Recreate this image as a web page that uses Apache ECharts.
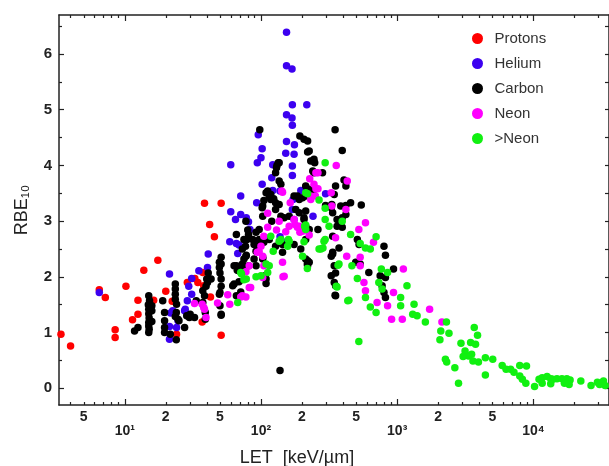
<!DOCTYPE html>
<html>
<head>
<meta charset="utf-8">
<script src="https://cdn.jsdelivr.net/npm/echarts@6/dist/echarts.min.js"></script>
<style>
  html, body { margin: 0; padding: 0; background: #fff; }
  #chart { width: 609px; height: 466px; }
</style>
</head>
<body>
<div id="chart"></div>
<script>
  // [LET keV/um, RBE10]
  const protons = [
    [3.4, 0.97], [4.0, 0.76], [6.5, 1.77], [7.2, 1.63], [8.5, 1.05], [8.5, 0.91],
    [10.2, 1.83], [11.4, 1.23], [12.5, 1.58], [12.5, 1.33], [13.8, 2.12], [17.5, 2.3],
    [16.3, 1.58], [20, 1.74], [22.3, 1.56], [24, 0.97], [28.8, 1.9], [32.7, 1.97],
    [34.4, 1.9], [37.4, 2.08], [37, 1.19], [42.6, 1.64], [51, 0.95], [38.5, 3.32],
    [51, 3.32], [42, 2.94], [45.5, 2.72], [38, 1.84]
  ]
  const helium = [
    [6.5, 1.72], [21.3, 2.05], [21.3, 1.11], [21.7, 1.35], [22.5, 1.39], [24.6, 1.21],
    [24, 1.09], [21.3, 0.88], [27.5, 1.39], [27.8, 1.42], [28.8, 1.57], [29.5, 1.83],
    [31, 1.97], [31, 1.69], [35, 2.11], [40.5, 2.17], [41, 2.41],
    [59, 2.63], [66, 2.6], [69, 2.57], [67.5, 2.42], [60, 3.17], [65, 3.03], [71, 3.12],
    [78, 3.06], [81, 2.99], [83, 2.85], [71, 3.45], [93, 3.33], [60, 4.01], [94, 4.05],
    [100, 4.14], [95.5, 4.55], [102, 4.3], [102, 3.66], [120, 3.78], [122, 4.01], [122, 3.55],
    [154, 6.39], [154, 5.79], [169, 5.73], [170, 5.09], [217, 5.09], [154, 4.91], [169, 4.85],
    [170, 4.72], [154, 4.43], [176, 4.37], [152, 4.22], [175, 4.2], [170, 3.99], [170, 3.82],
    [170, 3.21], [175, 3.03], [138, 3.54], [196, 3.55], [298, 3.49], [241, 3.09], [150, 2.62],
    [138, 2.72], [172, 3.39]
  ]
  const carbon = [
    [11.8, 1.03], [12.5, 1.09], [15, 1.66], [15.2, 1.57], [14.9, 1.5], [15, 1.42], [15, 1.34],
    [15.1, 1.26], [15, 1.18], [15, 1.12], [15.1, 1.06], [15, 1.0], [15.8, 1.39], [15.8, 1.48],
    [15.8, 1.2], [19, 1.57], [19.6, 1.36], [19.6, 1.21], [19.6, 1.09], [19.6, 1.0], [21.6, 0.97],
    [23.5, 1.87], [23.5, 1.78], [23.5, 1.69], [23.5, 1.6], [24, 1.51], [23.9, 1.36], [23.5, 1.29],
    [24.6, 1.24], [25, 1.21], [23.9, 0.87], [27.5, 1.09], [28.5, 1.3], [29.8, 1.27], [30.2, 1.33],
    [32.5, 1.27], [33.5, 1.57], [37.4, 1.75], [39.5, 1.83], [40, 1.96], [41, 2.07], [43, 1.96],
    [39, 1.36], [39, 1.24], [38.5, 1.66], [37.4, 1.54], [40.5, 1.9],
    [49.5, 2.26], [49.5, 2.17], [50, 2.07], [51, 2.35], [51, 1.96], [51, 1.83], [49.5, 1.69],
    [50, 1.48], [51, 1.33], [51, 2.23], [50, 1.72], [51, 1.31],
    [63.5, 2.2], [67, 2.12], [63.5, 1.87], [69, 1.91], [71, 1.73], [62, 1.84], [66, 1.66],
    [66, 2.2], [69, 2.11], [73, 2.23], [73, 2.5], [78, 2.39], [66, 2.76], [75, 2.67],
    [80, 2.84], [81, 2.76], [79, 2.67], [77, 2.55], [77.5, 2.37], [75, 2.32], [73, 2.2],
    [81, 2.2], [87, 2.67], [89, 2.58], [92, 2.46], [77.5, 3.0], [92, 2.57], [89, 2.32],
    [92, 2.2], [97, 2.67], [105, 2.62], [103, 2.35],
    [98, 4.64], [193, 4.53], [207, 4.47], [220, 4.44], [220, 4.24], [350, 4.64], [395, 4.27],
    [134, 4.05], [130, 3.96], [128, 3.87], [136, 3.72], [140, 3.66], [136, 4.05], [131, 4.0],
    [232, 4.08], [248, 4.05], [245, 3.87], [283, 3.87], [353, 3.63], [407, 3.74], [213, 3.63],
    [232, 3.57], [213, 3.45], [202, 3.42], [175, 3.45], [185, 3.45],
    [109, 3.51], [115, 3.45], [118, 3.39], [128, 3.33], [136, 3.3], [103, 3.27], [103, 3.09],
    [120, 3.0], [140, 3.09], [161, 3.09], [180, 3.21], [191, 3.15], [207, 3.06], [213, 2.91],
    [226, 2.85], [298, 3.28], [328, 3.24], [336, 3.15], [362, 3.03], [395, 2.89], [420, 3.28],
    [112, 3.54], [118, 3.48], [124, 3.4], [105, 3.37], [102, 3.24], [128, 3.21], [148, 3.06],
    [92, 2.8], [97, 2.85], [115, 2.67], [128, 2.55], [144, 2.58], [175, 2.58], [196, 2.5],
    [213, 2.67], [103, 2.32], [109, 1.88], [107, 2.02], [109, 1.96], [144, 2.44], [213, 2.32],
    [220, 2.2], [226, 2.26], [336, 2.44], [345, 2.2], [353, 2.07], [328, 2.02], [353, 1.84],
    [350, 1.67], [138, 0.32],
    [226, 4.26], [245, 4.11], [240, 3.9], [420, 3.63], [191, 3.39], [219, 3.58], [240, 3.51],
    [213, 3.18], [207, 3.03], [345, 3.48], [331, 3.3], [385, 3.27], [455, 3.33], [545, 3.29],
    [420, 3.12], [395, 3.06], [262, 2.85], [362, 2.91], [336, 2.73], [510, 2.67], [525, 2.58],
    [374, 2.52], [336, 2.41], [328, 2.37], [800, 2.55], [820, 2.39], [619, 2.08], [220, 2.29],
    [219, 2.23], [345, 1.9], [353, 1.66], [496, 2.26], [535, 2.23], [750, 2.02], [775, 1.84],
    [800, 1.72], [820, 1.63], [940, 2.14], [820, 1.99]
  ]
  const neon = [
    [32.5, 1.52], [37, 1.51], [38, 1.45], [39.5, 1.27], [48, 1.53], [57, 1.68], [59, 1.51],
    [71, 1.64], [77.5, 1.64], [82, 1.81], [82, 2.2], [97, 2.45], [103, 2.37], [112, 2.89],
    [136, 3.0], [152, 2.81], [144, 2.26], [145, 2.0], [142, 3.54], [175, 3.03], [178, 2.94],
    [185, 2.89], [193, 2.8], [253, 3.87], [245, 3.66], [253, 3.58], [232, 3.45], [328, 3.51],
    [430, 3.72], [353, 2.7], [426, 2.37], [103, 1.99],
    [112, 3.14], [144, 3.52], [164, 3.33], [130, 2.84], [161, 2.91], [191, 2.91], [105, 2.73],
    [100, 2.55], [94, 2.44], [77.5, 2.09], [105, 2.2], [148, 2.01], [84, 1.81], [73, 1.66],
    [38.5, 1.42], [202, 2.82],
    [357, 4.0], [262, 3.87], [228, 3.76], [262, 3.58], [251, 3.45], [232, 3.39], [331, 3.27],
    [420, 3.21], [198, 2.85], [226, 2.75], [585, 2.97], [523, 2.85], [670, 2.62], [535, 2.35],
    [535, 2.2], [570, 1.9], [585, 1.75], [712, 1.54], [850, 1.48], [940, 1.72], [1110, 2.14],
    [910, 1.24], [1090, 1.24], [1730, 1.42], [2130, 1.19]
  ]
  const heavy = [
    [213, 3.51], [118, 2.73], [140, 2.67], [161, 2.64], [123, 2.46], [157, 2.55], [213, 2.85],
    [202, 2.37], [115, 2.2], [112, 2.08], [92, 2.0], [71, 2.08], [67.5, 1.54],
    [296, 4.05], [220, 3.49], [267, 3.38], [296, 3.23], [296, 3.03], [316, 2.91], [290, 2.64],
    [267, 2.5], [395, 3.0], [213, 2.93], [207, 2.63], [219, 2.15], [159, 2.67], [136, 2.64],
    [109, 2.23], [100, 2.02], [78, 1.96], [72, 2.05], [362, 1.82], [374, 2.23], [434, 1.57],
    [75, 1.95], [209, 2.91], [296, 2.67], [275, 2.5], [455, 2.76], [535, 2.6], [585, 2.52],
    [635, 2.5], [700, 2.72], [368, 2.21], [465, 2.2], [510, 1.97], [357, 1.83], [442, 1.58],
    [585, 1.63], [635, 1.46], [700, 1.36], [733, 1.9], [765, 2.14], [850, 2.08], [775, 1.78],
    [1060, 1.63], [1060, 1.48], [1180, 1.84], [523, 0.84], [285, 2.52],
    [1330, 1.51], [1300, 1.33], [1400, 1.3], [1610, 1.19], [2300, 1.19], [2090, 1.03],
    [2400, 0.99], [2060, 0.87], [3680, 1.09], [3890, 0.95], [2940, 0.81], [3460, 0.82],
    [3760, 0.79], [3150, 0.67], [3340, 0.58], [3520, 0.61], [3600, 0.49], [3950, 0.47],
    [3050, 0.57], [2260, 0.52], [2310, 0.47], [2650, 0.37], [2820, 0.09], [4440, 0.55],
    [5030, 0.52], [4440, 0.24], [5900, 0.41], [6300, 0.34], [6800, 0.34], [7200, 0.29],
    [7940, 0.41], [8900, 0.4], [8800, 0.09], [8300, 0.16], [7940, 0.22], [10200, 0.03],
    [11000, 0.16], [11600, 0.19], [12600, 0.21], [13400, 0.17], [13900, 0.16], [14900, 0.17],
    [16200, 0.17], [17600, 0.17], [18600, 0.15], [18300, 0.07], [13400, 0.08], [22300, 0.13],
    [26500, 0.05], [29500, 0.11], [30600, 0.07], [32700, 0.13], [33600, 0.05], [11600, 0.09],
    [16900, 0.09]
  ]

  const seriesNames = ['Protons', 'Helium', 'Carbon', 'Neon', '>Neon']
  const seriesColors = ['#ff0000', '#3c00f0', '#000000', '#ff00ff', '#11f011']

  // axis ticks (LET is drawn on a log10 value axis)
  const xRange = [3.29, 35900]
  const xMinorTicks = [4, 5, 6, 7, 8, 9, 20, 30, 40, 50, 60, 70, 80, 90,
    200, 300, 400, 500, 600, 700, 800, 900, 2000, 3000, 4000, 5000, 6000, 7000, 8000, 9000,
    20000, 30000]
  const xSmallLabels = [5, 20, 50, 200, 500, 2000, 5000]
  const xDecades = [10, 100, 1000, 10000]
  const yRange = [-0.3, 6.7]
  const yLabels = [0, 1, 2, 3, 4, 5, 6]
  const yHalfTicks = [0.5, 1.5, 2.5, 3.5, 4.5, 5.5, 6.5]

  const lg = v => Math.log10(v)
  const sup = { 1: '¹', 2: '²', 3: '³', 4: '⁴' }
  const ink = '#222'
  const font = "'Liberation Sans', Arial, sans-serif"

  const chart = echarts.init(document.getElementById('chart'))

  const xBase = {
    type: 'value',
    min: lg(xRange[0]),
    max: lg(xRange[1]),
    splitLine: { show: false },
    axisLine: { show: false, onZero: false },
    axisTick: { show: false },
    axisLabel: { show: false }
  }
  const yBase = {
    type: 'value',
    min: yRange[0],
    max: yRange[1],
    splitLine: { show: false },
    axisLine: { show: false, onZero: false },
    axisTick: { show: false },
    axisLabel: { show: false }
  }
  const frame = { show: true, onZero: false, lineStyle: { color: ink, width: 1.5 } }
  const tick = (values, len) => ({
    show: true, inside: true, length: len, customValues: values,
    lineStyle: { color: ink, width: 1.2 }
  })

  const option = {
    backgroundColor: '#fff',
    animation: false,
    grid: { left: 59, top: 15, width: 552, height: 390 },
    legend: {
      orient: 'vertical',
      left: 467,
      top: 26,
      itemWidth: 20,
      itemHeight: 11,
      itemGap: 10,
      icon: 'circle',
      data: seriesNames,
      textStyle: { fontSize: 15, color: '#333', fontFamily: font, padding: [0, 0, 0, 2] }
    },
    xAxis: [
      Object.assign({}, xBase, {
        position: 'bottom',
        axisLine: frame,
        axisTick: tick(xMinorTicks.map(lg), 3),
        axisLabel: {
          show: true, customValues: xSmallLabels.map(lg), margin: 5,
          formatter: v => String(Math.round(Math.pow(10, v))).charAt(0),
          fontSize: 14, fontWeight: 'bold', color: ink, fontFamily: font
        }
      }),
      Object.assign({}, xBase, {
        position: 'bottom',
        axisTick: tick(xDecades.map(lg), 6),
        axisLabel: {
          show: true, customValues: xDecades.map(lg), margin: 19,
          formatter: v => '10' + sup[Math.round(v)],
          fontSize: 14, fontWeight: 'bold', color: ink, fontFamily: font
        }
      }),
      Object.assign({}, xBase, {
        position: 'top',
        axisLine: frame,
        axisTick: tick(xMinorTicks.map(lg), 3)
      }),
      Object.assign({}, xBase, {
        position: 'top',
        axisTick: tick(xDecades.map(lg), 6)
      })
    ],
    yAxis: [
      Object.assign({}, yBase, {
        position: 'left',
        axisLine: frame,
        axisTick: tick(yLabels, 5),
        axisLabel: {
          show: true, customValues: yLabels, margin: 7,
          fontSize: 15, fontWeight: 'bold', color: ink, fontFamily: font
        },
        name: 'RBE₁₀',
        nameLocation: 'middle',
        nameGap: 28,
        nameTextStyle: { fontSize: 18, color: ink, fontFamily: font }
      }),
      Object.assign({}, yBase, {
        position: 'left',
        axisTick: tick(yHalfTicks, 3)
      }),
      Object.assign({}, yBase, {
        position: 'right',
        axisLine: frame,
        axisTick: tick(yLabels.concat(yHalfTicks), 4)
      })
    ],
    graphic: [{
      type: 'text',
      x: 297,
      y: 458,
      style: {
        text: 'LET  [keV/µm]',
        align: 'center',
        verticalAlign: 'middle',
        fontSize: 18,
        fontFamily: font,
        fill: ink
      }
    }],
    series: [protons, helium, carbon, neon, heavy].map((arr, i) => ({
      name: seriesNames[i],
      type: 'scatter',
      xAxisIndex: 0,
      yAxisIndex: 0,
      symbolSize: 7.5,
      itemStyle: { color: seriesColors[i], opacity: 1 },
      data: arr.map(p => [lg(p[0]), p[1]])
    }))
  }

  chart.setOption(option)
</script>
</body>
</html>
